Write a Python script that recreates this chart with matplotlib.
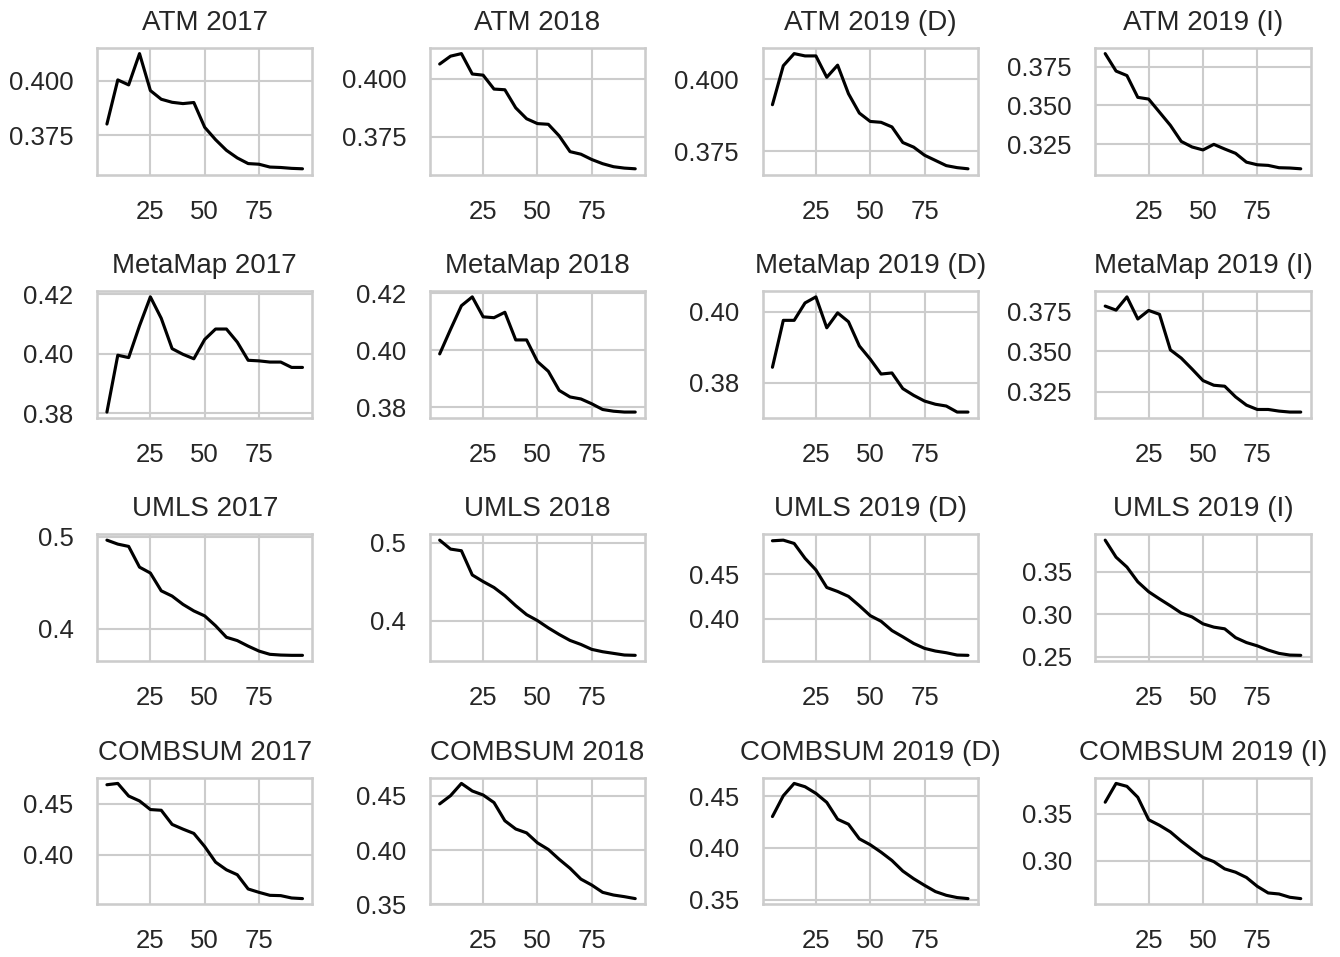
import numpy as np
import matplotlib
matplotlib.use("Agg")
import matplotlib.pyplot as plt
import seaborn as sns

# x positions shared by every panel
steps = [5, 10, 15, 20, 25, 30, 35, 40, 45, 50, 55, 60, 65, 70, 75, 80, 85, 90, 95]

methods = ["ATM", "MetaMap", "UMLS", "COMBSUM"]
years = ["2017", "2018", "2019 (D)", "2019 (I)"]

atm_2017 = [0.3802, 0.4005, 0.3982, 0.4126, 0.3956, 0.3916, 0.3902, 0.3896, 0.3901, 0.3787,
            0.3730, 0.3681, 0.3646, 0.3620, 0.3617, 0.3604, 0.3602, 0.3598, 0.3596]
atm_2018 = [0.4064, 0.4098, 0.4109, 0.4021, 0.4016, 0.3956, 0.3953, 0.3875, 0.3828, 0.3807,
            0.3804, 0.3754, 0.3686, 0.3675, 0.3652, 0.3634, 0.3621, 0.3615, 0.3612]
atm_2019_d = [0.3911, 0.4046, 0.4088, 0.4080, 0.4080, 0.4006, 0.4048, 0.3949, 0.3882, 0.3853,
              0.3850, 0.3834, 0.3780, 0.3764, 0.3736, 0.3718, 0.3700, 0.3693, 0.3689]
atm_2019_i = [0.3835, 0.3722, 0.3693, 0.3552, 0.3541, 0.3456, 0.3371, 0.3267, 0.3231, 0.3212,
              0.3248, 0.3218, 0.3190, 0.3133, 0.3116, 0.3112, 0.3097, 0.3095, 0.3090]

metamap_2017 = [0.3804, 0.3995, 0.3987, 0.4094, 0.4191, 0.4119, 0.4017, 0.3998, 0.3983, 0.4048,
                0.4083, 0.4083, 0.4039, 0.3978, 0.3976, 0.3972, 0.3972, 0.3954, 0.3954]
metamap_2018 = [0.3987, 0.4073, 0.4156, 0.4187, 0.4117, 0.4114, 0.4133, 0.4036, 0.4036, 0.3960,
                0.3926, 0.3859, 0.3836, 0.3829, 0.3812, 0.3792, 0.3786, 0.3783, 0.3783]
metamap_2019_d = [0.3844, 0.3976, 0.3976, 0.4025, 0.4042, 0.3955, 0.3997, 0.3972, 0.3904, 0.3867,
                  0.3825, 0.3828, 0.3784, 0.3765, 0.3749, 0.3740, 0.3735, 0.3718, 0.3718]
metamap_2019_i = [0.3781, 0.3756, 0.3838, 0.3701, 0.3754, 0.3730, 0.3510, 0.3459, 0.3391, 0.3320,
                  0.3291, 0.3285, 0.3219, 0.3168, 0.3141, 0.3141, 0.3131, 0.3125, 0.3125]

umls_2017 = [0.4961, 0.4918, 0.4893, 0.4668, 0.4604, 0.4411, 0.4354, 0.4264, 0.4193, 0.4139,
             0.4032, 0.3907, 0.3871, 0.3811, 0.3757, 0.3722, 0.3714, 0.3711, 0.3711]
umls_2018 = [0.5030, 0.4916, 0.4895, 0.4586, 0.4502, 0.4426, 0.4321, 0.4194, 0.4080, 0.4004,
             0.3911, 0.3827, 0.3751, 0.3700, 0.3637, 0.3607, 0.3586, 0.3565, 0.3561]
umls_2019_d = [0.4874, 0.4881, 0.4844, 0.4678, 0.4548, 0.4352, 0.4307, 0.4252, 0.4148, 0.4037,
               0.3974, 0.3870, 0.3800, 0.3726, 0.3671, 0.3641, 0.3622, 0.3596, 0.3593]
umls_2019_i = [0.3876, 0.3675, 0.3558, 0.3384, 0.3267, 0.3182, 0.3101, 0.3016, 0.2969, 0.2888,
               0.2849, 0.2829, 0.2725, 0.2667, 0.2628, 0.2578, 0.2539, 0.2519, 0.2516]

combsum_2017 = [0.4684, 0.4697, 0.4574, 0.4526, 0.4442, 0.4435, 0.4297, 0.4251, 0.4209, 0.4081,
                0.3929, 0.3854, 0.3806, 0.3667, 0.3634, 0.3605, 0.3602, 0.3579, 0.3573]
combsum_2018 = [0.4427, 0.4503, 0.4616, 0.4546, 0.4509, 0.4439, 0.4271, 0.4195, 0.4159, 0.4067,
                0.4006, 0.3915, 0.3832, 0.3732, 0.3677, 0.3610, 0.3585, 0.3570, 0.3552]
combsum_2019_d = [0.4302, 0.4503, 0.4622, 0.4590, 0.4526, 0.4439, 0.4276, 0.4228, 0.4087, 0.4030,
                  0.3958, 0.3878, 0.3776, 0.3702, 0.3638, 0.3578, 0.3542, 0.3520, 0.3510]
combsum_2019_i = [0.3623, 0.3822, 0.3791, 0.3675, 0.3437, 0.3378, 0.3308, 0.3210, 0.3122, 0.3038,
                  0.2993, 0.2916, 0.2881, 0.2825, 0.2731, 0.2661, 0.2650, 0.2615, 0.2601]

series = [
    [atm_2017, atm_2018, atm_2019_d, atm_2019_i],
    [metamap_2017, metamap_2018, metamap_2019_d, metamap_2019_i],
    [umls_2017, umls_2018, umls_2019_d, umls_2019_i],
    [combsum_2017, combsum_2018, combsum_2019_d, combsum_2019_i],
]

x_ticks = [25, 50, 75]
y_ticks = [
    [[0.375, 0.400], [0.375, 0.400], [0.375, 0.400], [0.325, 0.350, 0.375]],
    [[0.38, 0.40, 0.42], [0.38, 0.40, 0.42], [0.38, 0.40], [0.325, 0.350, 0.375]],
    [[0.4, 0.5], [0.4, 0.5], [0.40, 0.45], [0.25, 0.30, 0.35]],
    [[0.40, 0.45], [0.35, 0.40, 0.45], [0.35, 0.40, 0.45], [0.30, 0.35]],
]

sns.set_theme(style="whitegrid", context="talk")
plt.rcParams["font.family"] = ["Liberation Sans", "DejaVu Sans"]
plt.rcParams["xtick.labelsize"] = 18.5
plt.rcParams["ytick.labelsize"] = 18.5
plt.rcParams["ytick.major.pad"] = 8
plt.rcParams["xtick.major.pad"] = 9

fig, axes = plt.subplots(4, 4, figsize=(13.4, 9.57), dpi=100)
fig.subplots_adjust(left=0.0725, right=0.978, top=0.95, bottom=0.055,
                    wspace=0.547, hspace=0.92)

for i, method in enumerate(methods):
    for j, year in enumerate(years):
        ax = axes[i, j]
        ax.plot(steps, series[i][j], color="black", lw=2.25)
        ax.set_title(f"{method} {year}", fontsize=20, pad=13)
        ax.set_xticks(x_ticks)
        ax.set_yticks(y_ticks[i][j])

fig.savefig("out.png", dpi=100)
